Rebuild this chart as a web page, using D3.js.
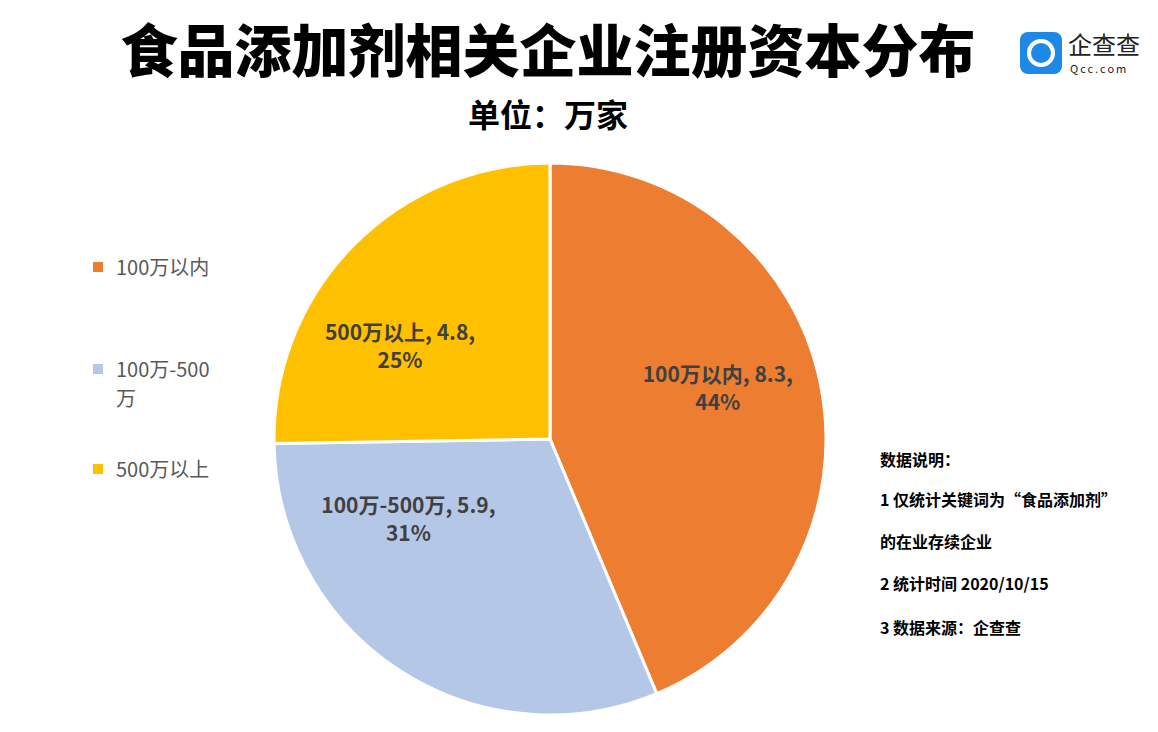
<!DOCTYPE html><html><head><meta charset="utf-8"><script src="https://cdn.jsdelivr.net/npm/d3@7"></script>
<style>body{margin:0;background:#fff}</style></head><body><svg id="c" width="1158" height="732"></svg>
<script>
const categories=["100万以内","100万-500万","500万以上"];
const values=[8.3,5.9,4.8];
const percents=["44%","31%","25%"];
const colors=["#ED7D31","#B4C7E7","#FFC000"];
const notes=["数据说明：","1 仅统计关键词为“食品添加剂”","的在业存续企业","2 统计时间 2020/10/15","3 数据来源：企查查"];
const svg=d3.select("#c");
const F="'Noto Sans CJK SC','Noto Sans',sans-serif";
svg.append("text").attr("x",548).attr("y",72).attr("text-anchor","middle").attr("font-family",F).attr("font-weight",900).attr("font-size",57).attr("fill","#000").text("食品添加剂相关企业注册资本分布");
svg.append("text").attr("x",548).attr("y",127).attr("text-anchor","middle").attr("font-family",F).attr("font-weight",700).attr("font-size",32).attr("fill","#000").text("单位：万家");
const lg=svg.append("g").attr("transform","translate(1020,32)");
lg.append("rect").attr("width",42).attr("height",42).attr("rx",8).attr("fill","#1E88E5");
lg.append("circle").attr("cx",21).attr("cy",21).attr("r",12).attr("fill","none").attr("stroke","#fff").attr("stroke-width",4);
lg.append("text").attr("x",48).attr("y",22).attr("font-family",F).attr("font-size",24).attr("fill","#222").text("企查查");
lg.append("text").attr("x",50).attr("y",41).attr("font-family",F).attr("font-size",11).attr("letter-spacing",2).attr("fill","#222").text("Qcc.com");
const cx=550,cy=439,R=276;
const pie=d3.pie().sort(null).value(d=>d)(values);
const arc=d3.arc().innerRadius(0).outerRadius(R);
const g=svg.append("g").attr("transform",`translate(${cx},${cy})`);
g.selectAll("path").data(pie).join("path").attr("d",arc).attr("fill",(d,i)=>colors[i]).attr("stroke","#fff").attr("stroke-width",3);
const lab=d3.arc().innerRadius(R*0.62).outerRadius(R*0.62);
const offs=[[0,-17],[-48,-63],[-28,27]];
pie.forEach((d,i)=>{const [x0,y0]=lab.centroid(d);const x=x0+offs[i][0],y=y0+offs[i][1];
 const t=g.append("text").attr("text-anchor","middle").attr("font-family",F).attr("font-weight",700).attr("font-size",21).attr("fill","#404040");
 t.append("tspan").attr("x",x).attr("y",y-6).text(`${categories[i]}, ${values[i]},`);
 t.append("tspan").attr("x",x).attr("y",y+22).text(percents[i]);});
const ly=[268,370,470];
categories.forEach((c,i)=>{
 svg.append("rect").attr("x",93).attr("y",ly[i]-6).attr("width",10).attr("height",10).attr("fill",colors[i]);
 const t=svg.append("text").attr("font-family",F).attr("font-size",20).attr("fill","#595959");
 if(i==1){t.append("tspan").attr("x",116).attr("y",ly[i]+7).text("100万-500");t.append("tspan").attr("x",116).attr("y",ly[i]+36).text("万");}
 else t.append("tspan").attr("x",116).attr("y",ly[i]+7).text(c);});
const ny=[466,506,548,590,634];
notes.forEach((n,i)=>svg.append("text").attr("x",880).attr("y",ny[i]).attr("font-family",F).attr("font-weight",700).attr("font-size",16).attr("fill","#000").text(n));
</script></body></html>
